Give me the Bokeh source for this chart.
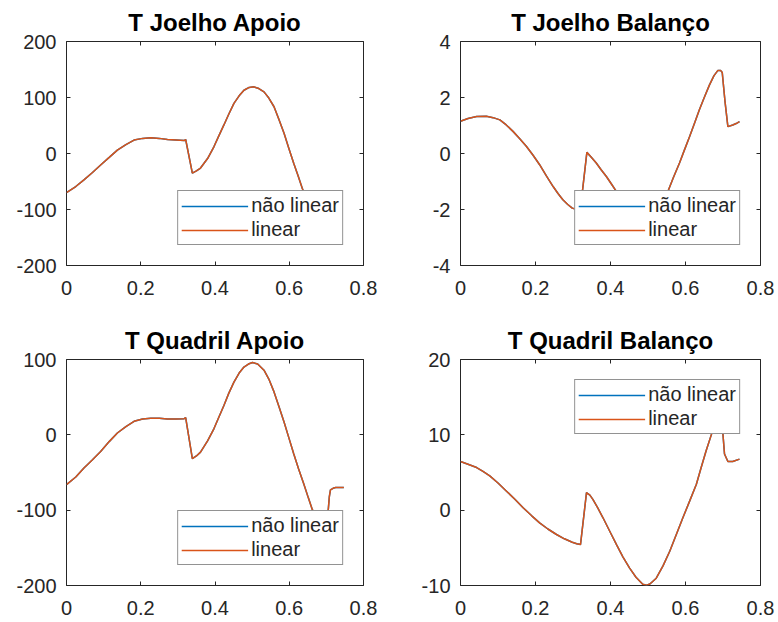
from bokeh.plotting import figure
from bokeh.models import Range1d, FixedTicker, LinearAxis, Legend, LegendItem
from bokeh.layouts import column, row
from bokeh.embed import file_html
from bokeh.resources import INLINE

# ---------------- data ----------------
titles = ["T Joelho Apoio", "T Joelho Balanço", "T Quadril Apoio", "T Quadril Balanço"]
series_names = ["não linear", "linear"]

xticks = [0, 0.2, 0.4, 0.6, 0.8]
xtick_labels = ["0", "0.2", "0.4", "0.6", "0.8"]

# T Joelho Apoio
ja_t = [0, 0.025, 0.047, 0.07, 0.092, 0.115, 0.137, 0.16, 0.182, 0.205, 0.227, 0.25,
        0.272, 0.295, 0.317, 0.321, 0.339, 0.35, 0.361, 0.38, 0.397, 0.41, 0.424, 0.437,
        0.451, 0.465, 0.478, 0.492, 0.505, 0.518, 0.532, 0.545, 0.559, 0.572, 0.586,
        0.599, 0.612, 0.624, 0.635, 0.65, 0.67, 0.69, 0.70, 0.71, 0.725, 0.74]
ja_linear = [-70, -59, -47, -34, -20.5, -7, 6, 16, 24, 27, 28, 27,
             25, 24, 23, 25, -35, -31, -26, -9, 12, 31, 51, 70,
             89.5, 103, 113, 118, 119, 116, 110, 99, 83.5, 61, 36,
             9, -17.5, -40, -62, -88, -120, -142, -135, -95, -78, -76]
ja_naolinear = list(ja_linear)
ja_yticks = [-200, -100, 0, 100, 200]
ja_ylabels = ["-200", "-100", "0", "100", "200"]

# T Joelho Balanço
jb_t = [0, 0.02, 0.043, 0.069, 0.087, 0.105, 0.122, 0.14, 0.158, 0.176, 0.194, 0.211,
        0.229, 0.247, 0.26, 0.273, 0.286, 0.298, 0.31, 0.32, 0.325, 0.337, 0.35, 0.362,
        0.375, 0.389, 0.402, 0.416, 0.44, 0.465, 0.49, 0.515, 0.535, 0.553, 0.568,
        0.584, 0.597, 0.611, 0.624, 0.637, 0.65, 0.664, 0.676, 0.686, 0.694, 0.698,
        0.705, 0.713, 0.726, 0.735, 0.744]
jb_linear = [1.15, 1.25, 1.32, 1.33, 1.28, 1.2, 1.02, 0.79, 0.53, 0.25, -0.07, -0.4,
             -0.8, -1.18, -1.43, -1.65, -1.82, -1.95, -2.0, -1.95, -1.36, 0.04, -0.15, -0.34,
             -0.58, -0.82, -1.08, -1.36, -1.9, -2.4, -2.6, -2.3, -1.8, -1.36, -0.85,
             -0.34, 0.12, 0.61, 1.08, 1.56, 2.0, 2.45, 2.78, 2.96, 2.96, 2.89,
             1.9, 0.96, 1.02, 1.07, 1.14]
jb_naolinear = list(jb_linear)
jb_yticks = [-4, -2, 0, 2, 4]
jb_ylabels = ["-4", "-2", "0", "2", "4"]

# T Quadril Apoio
qa_t = [0, 0.025, 0.047, 0.07, 0.092, 0.115, 0.137, 0.16, 0.182, 0.205, 0.227, 0.25,
        0.272, 0.295, 0.317, 0.321, 0.339, 0.35, 0.361, 0.38, 0.397, 0.41, 0.424, 0.437,
        0.451, 0.465, 0.478, 0.49, 0.501, 0.515, 0.532, 0.545, 0.559, 0.572, 0.586,
        0.599, 0.612, 0.625, 0.639, 0.651, 0.662, 0.675, 0.69, 0.70, 0.705, 0.708,
        0.711, 0.718, 0.725, 0.747]
qa_linear = [-66, -56, -44, -33, -22, -9, 2.4, 11, 18, 21, 22, 22,
             21, 21, 21.5, 23, -31.6, -28, -23, -8, 8, 23, 39, 55,
             70, 82, 90, 94, 96, 94, 85.8, 74, 57, 38, 17,
             -4, -25, -45, -65, -83, -99, -112, -118, -115, -100, -82,
             -73, -71, -70, -70]
qa_naolinear = list(qa_linear)
qa_yticks = [-200, -100, 0, 100]
qa_ylabels = ["-200", "-100", "0", "100"]

# T Quadril Balanço
qb_t = [0, 0.02, 0.043, 0.06, 0.078, 0.1, 0.122, 0.145, 0.167, 0.19, 0.211, 0.233,
        0.256, 0.277, 0.298, 0.31, 0.32, 0.336, 0.345, 0.353, 0.366, 0.38, 0.398, 0.416,
        0.433, 0.451, 0.468, 0.486, 0.496, 0.505, 0.522, 0.54, 0.558, 0.575, 0.593,
        0.611, 0.629, 0.642, 0.655, 0.669, 0.68, 0.69, 0.696, 0.7, 0.704, 0.713,
        0.726, 0.744]
qb_linear = [6.46, 6.1, 5.66, 5.15, 4.55, 3.6, 2.55, 1.45, 0.32, -0.75, -1.68, -2.5,
             -3.23, -3.8, -4.26, -4.45, -4.57, 2.32, 2.0, 1.44, 0.3, -1.01, -2.8, -4.57,
             -6.2, -7.69, -8.9, -9.83, -9.95, -9.8, -9.03, -7.4, -5.46, -3.3, -1.01,
             1.2, 3.44, 5.7, 7.89, 10.03, 11.8, 13.0, 13.2, 10.0, 7.45, 6.46,
             6.46, 6.78]
qb_naolinear = list(qb_linear)
qb_yticks = [-10, 0, 10, 20]
qb_ylabels = ["-10", "0", "10", "20"]

# ---------------- style ----------------
BLUE = "#0072BD"
ORANGE = "#D95319"
AX = "#262626"
FONT = "Liberation Sans"


def style_axis(ax, ticks, labels):
    ax.ticker = FixedTicker(ticks=ticks)
    ax.axis_line_color = None
    ax.major_tick_in = 4
    ax.major_tick_out = 0
    ax.major_tick_line_color = AX
    ax.major_tick_line_width = 1
    ax.minor_tick_line_color = None
    ax.major_label_overrides = {t: l for t, l in zip(ticks, labels)}
    ax.major_label_text_font = FONT
    ax.major_label_text_font_size = "20px"
    ax.major_label_text_color = AX


def mirror_axis(ticks):
    # tick marks only (as minor ticks, so that no labels are drawn)
    ax = LinearAxis(ticker=FixedTicker(ticks=[], minor_ticks=ticks))
    ax.axis_line_color = None
    ax.major_tick_line_color = None
    ax.minor_tick_in = 4
    ax.minor_tick_out = 0
    ax.minor_tick_line_color = AX
    ax.minor_tick_line_width = 1
    ax.major_label_standoff = 0
    return ax


def panel(title, t, y_nl, y_l, ylim, yticks, ylabels, loc, bl, br, bt, bb):
    p = figure(width=389, height=311, output_backend="svg", toolbar_location=None,
               x_range=Range1d(0, 0.8), y_range=Range1d(*ylim),
               min_border_left=bl, min_border_right=br,
               min_border_top=bt, min_border_bottom=bb)
    p.grid.visible = False
    p.outline_line_color = AX
    p.outline_line_width = 1
    p.background_fill_color = "white"
    p.border_fill_color = "white"

    p.title.text = title
    p.title.text_font = FONT
    p.title.text_font_size = "24px"
    p.title.text_font_style = "bold"
    p.title.text_color = "#000000"
    p.title.align = "center"
    p.title.standoff = 12

    style_axis(p.xaxis[0], xticks, xtick_labels)
    p.xaxis[0].major_label_standoff = 15
    style_axis(p.yaxis[0], yticks, ylabels)
    p.yaxis[0].major_label_standoff = 10

    p.add_layout(mirror_axis(xticks), "above")
    p.add_layout(mirror_axis(yticks), "right")

    r1 = p.line(t, y_nl, line_color=BLUE, line_width=1.5)
    r2 = p.line(t, y_l, line_color=ORANGE, line_width=1.5)

    legend = Legend(items=[LegendItem(label=series_names[0], renderers=[r1]),
                           LegendItem(label=series_names[1], renderers=[r2])],
                    location=loc, margin=20, padding=3, spacing=1,
                    label_standoff=3, glyph_width=67, glyph_height=20,
                    label_height=20, label_text_font=FONT,
                    label_text_font_size="20px", label_text_color=AX,
                    border_line_color=AX, border_line_width=1,
                    background_fill_color="white", background_fill_alpha=1.0)
    p.add_layout(legend)
    return p


p1 = panel(titles[0], ja_t, ja_naolinear, ja_linear, (-200, 200), ja_yticks, ja_ylabels,
           "bottom_right", 66, 26, 41, 46)
p2 = panel(titles[1], jb_t, jb_naolinear, jb_linear, (-4, 4), jb_yticks, jb_ylabels,
           "bottom_right", 71, 18, 41, 46)
p3 = panel(titles[2], qa_t, qa_naolinear, qa_linear, (-200, 100), qa_yticks, qa_ylabels,
           "bottom_right", 66, 26, 48, 37)
p4 = panel(titles[3], qb_t, qb_naolinear, qb_linear, (-10, 20), qb_yticks, qb_ylabels,
           "top_right", 71, 18, 48, 37)

layout = column(row(p1, p2), row(p3, p4))

open("out.html", "w").write(file_html(layout, INLINE))
